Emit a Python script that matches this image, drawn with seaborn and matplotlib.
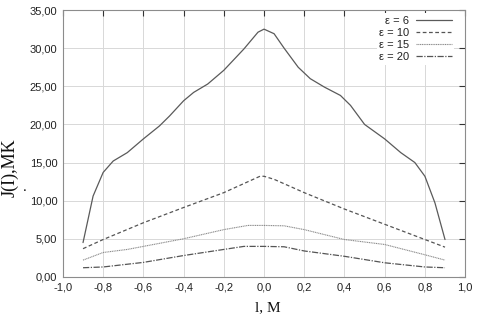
import numpy as np
import pandas as pd
import matplotlib
matplotlib.use("Agg")
import matplotlib.pyplot as plt
import matplotlib.ticker as mticker
import seaborn as sns

# values
x_e6 = [-0.90, -0.85, -0.80, -0.75, -0.68, -0.60, -0.52, -0.47, -0.40, -0.35, -0.28, -0.20, -0.10, -0.03, 0.00,
        0.05, 0.10, 0.17, 0.23, 0.30, 0.38, 0.43, 0.50, 0.60, 0.68, 0.75, 0.80, 0.85, 0.90]
y_e6 = [4.5, 10.6, 13.7, 15.2, 16.3, 18.1, 19.8, 21.1, 23.1, 24.2, 25.3, 27.1, 29.9, 32.1, 32.5,
        31.9, 30.0, 27.5, 26.0, 24.9, 23.8, 22.5, 20.0, 18.1, 16.3, 15.0, 13.2, 9.7, 4.9]

x_e10 = [-0.90, -0.80, -0.60, -0.40, -0.20, -0.02, 0.00, 0.05, 0.20, 0.40, 0.60, 0.80, 0.90]
y_e10 = [3.7, 4.9, 7.1, 9.1, 11.05, 13.2, 13.2, 12.8, 11.05, 8.9, 6.9, 4.9, 3.9]

x_e15 = [-0.90, -0.80, -0.68, -0.60, -0.40, -0.20, -0.08, 0.00, 0.10, 0.20, 0.40, 0.60, 0.80, 0.90]
y_e15 = [2.2, 3.2, 3.6, 4.0, 5.0, 6.2, 6.75, 6.75, 6.7, 6.2, 4.9, 4.25, 2.9, 2.2]

x_e20 = [-0.90, -0.80, -0.60, -0.40, -0.20, -0.10, 0.00, 0.10, 0.20, 0.40, 0.60, 0.80, 0.90]
y_e20 = [1.2, 1.3, 1.9, 2.8, 3.6, 4.0, 4.0, 3.95, 3.4, 2.7, 1.85, 1.3, 1.2]

labels = ["ε = 6", "ε = 10", "ε = 15", "ε = 20"]
x_ticks = [-1.0, -0.8, -0.6, -0.4, -0.2, 0.0, 0.2, 0.4, 0.6, 0.8, 1.0]
y_ticks = [0, 5, 10, 15, 20, 25, 30, 35]

sns.set_style("whitegrid")
plt.rcParams['font.family'] = ['Liberation Sans', 'DejaVu Sans']

fig = plt.figure(figsize=(4.84, 3.15), dpi=100)
ax = fig.add_axes([0.130, 0.121, 0.831, 0.847])

series = [(x_e6, y_e6, '-', '#5a5a5a', 0.9),
          (x_e10, y_e10, (0, (3, 2)), '#555555', 0.9),
          (x_e15, y_e15, (0, (1, 0.6)), '#8a8a8a', 0.8),
          (x_e20, y_e20, (0, (5, 1.2, 1, 1.2)), '#555555', 0.9)]

for (xs, ys, ls, col, lw), lab in zip(series, labels):
    df = pd.DataFrame({'x': xs, 'y': ys})
    sns.lineplot(data=df, x='x', y='y', ax=ax, color=col, linestyle=ls,
                 linewidth=lw, label=lab, sort=False)
for ln in ax.get_lines():
    ln.set_solid_joinstyle('round')
    ln.set_dash_joinstyle('round')

ax.set_xlim(-1.0, 1.0)
ax.set_ylim(0, 35)
ax.set_xticks(x_ticks)
ax.set_yticks(y_ticks)
ax.xaxis.set_major_formatter(mticker.FuncFormatter(lambda v, p: f"{v:.1f}".replace('.', ',')))
ax.yaxis.set_major_formatter(mticker.FuncFormatter(lambda v, p: f"{v:.2f}".replace('.', ',')))
ax.tick_params(axis='both', which='both', direction='in', length=4, width=0.8,
               colors='#333333', labelsize=8, top=True, right=True,
               labeltop=False, labelright=False)
ax.tick_params(axis='both', labelcolor='#222222', pad=4)
ax.grid(True, color='#d8d8d8', linewidth=0.7)
for s in ax.spines.values():
    s.set_color('#8c8c8c')
    s.set_linewidth(0.8)

ax.set_xlabel('')
ax.set_ylabel('')
fig.text(0.002, 0.467, 'J(I),MK', rotation=90, family='Liberation Serif',
         fontsize=13, ha='left', va='center', color='#111111')
fig.text(0.048, 0.395, '.', family='Liberation Serif', fontsize=11, color='#111111')
fig.text(0.527, 0.004, 'l, M', family='Liberation Serif', fontsize=11,
         ha='left', va='bottom', color='#111111')

leg = ax.legend(loc='upper right', bbox_to_anchor=(0.98, 1.0), markerfirst=False,
                frameon=True, fontsize=8, handlelength=3.2, handletextpad=0.6,
                labelspacing=0.2, borderaxespad=0.3, borderpad=0.2)
leg.get_frame().set_facecolor('white')
leg.get_frame().set_edgecolor('none')
leg.get_frame().set_alpha(1)
for t in leg.get_texts():
    t.set_color('#222222')

fig.savefig('out.png', dpi=100)
